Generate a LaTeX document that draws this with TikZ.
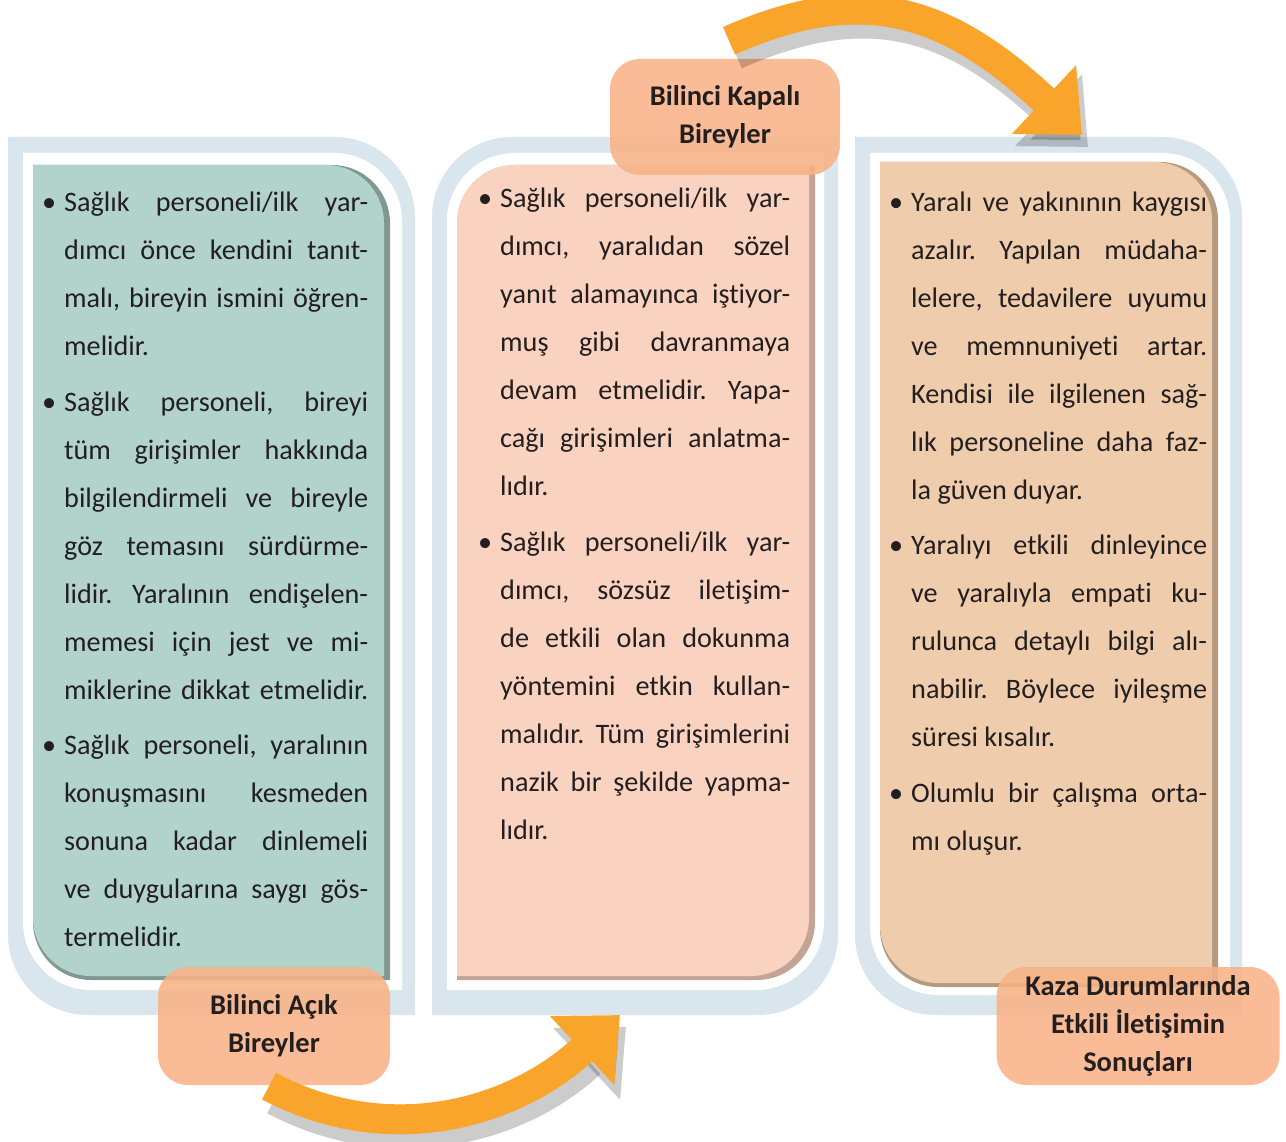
\documentclass[tikz,border=0pt]{standalone}
\usepackage{fontspec}
\setmainfont{Carlito}[Ligatures=NoCommon]
\usetikzlibrary{arrows.meta}
\setlength{\parindent}{0pt}

\definecolor{framecol}{HTML}{DAE6EE}
\definecolor{tealpanel}{HTML}{B1D3CB}
\definecolor{peachpanel}{HTML}{FAD2C0}
\definecolor{tanpanel}{HTML}{EFCDAC}
\definecolor{tagcol}{HTML}{F8B387}
\definecolor{arrowcol}{HTML}{F9A52B}
\definecolor{inkcol}{HTML}{231F20}

% tab outlines: L T R B radius
\newcommand{\tabTR}[5]{(#1,#2) -- ({#3-#5},#2) arc[start angle=-90,end angle=0,radius=#5] -- (#3,#4) -- ({#1+#5},#4) arc[start angle=90,end angle=180,radius=#5] -- cycle}
\newcommand{\tabTL}[5]{({#1+#5},#2) -- (#3,#2) -- (#3,{#4-#5}) arc[start angle=0,end angle=90,radius=#5] -- (#1,#4) -- (#1,{#2+#5}) arc[start angle=180,end angle=270,radius=#5] -- cycle}
\newcommand{\itm}{\rule{0pt}{30pt}\llap{\textbullet\hspace{8pt}}}

\begin{document}
\begin{tikzpicture}[x=1pt,y=-1pt]
\tikzstyle{every node}=[inner sep=0pt, text=inkcol]
\tikzstyle{textcol}=[anchor=north west, align=justify, font={\fontsize{28.2}{48}\selectfont\frenchspacing\tolerance=10000\hyphenpenalty=10000}]
\tikzstyle{tagbox}=[fill=tagcol, fill opacity=.88, text opacity=1, rounded corners=30pt, align=center, font=\bfseries\fontsize{28.5}{38}\selectfont]
\tikzstyle{bigarrow}=[draw=arrowcol, line width=30pt, -{Triangle[length=52pt,width=91pt]}]
\tikzstyle{arrowshadow}=[draw=black, opacity=.2, line width=34pt, -{Triangle[length=54pt,width=95pt]}, transform canvas={shift={(6,12)}}]
\useasboundingbox (0,0) rectangle (1286,1142);

% frames and panels
\fill[framecol] \tabTR{8}{137}{415}{1015}{80};
\fill[white] \tabTR{23}{153}{402}{990}{68};
\fill[tealpanel!72!black] \tabTR{33}{165}{390}{980}{58};
\fill[tealpanel] \tabTR{33}{165}{384}{976}{58};

\fill[framecol] \tabTL{432}{137}{838}{1015}{80};
\fill[white] \tabTL{447}{153}{824}{990}{68};
\fill[peachpanel!78!black] \tabTL{457}{165}{815}{980}{58};
\fill[peachpanel] \tabTL{457}{165}{809}{976}{58};

\fill[framecol] \tabTR{855}{137}{1242}{1015}{80};
\fill[white] \tabTR{870}{153}{1230}{995}{68};
\fill[tanpanel!75!black] \tabTR{880}{162}{1218}{987}{58};
\fill[tanpanel] \tabTR{880}{162}{1212}{983}{58};

% texts
\node[textcol, text width=304pt] (acikmetin) at (64,181) {%
\itm Sağlık personeli/ilk yar-\linebreak
dımcı önce kendini tanıt-\linebreak
malı, bireyin ismini öğren-\linebreak
melidir.\\[8pt]
\itm Sağlık personeli, bireyi\linebreak
tüm girişimler hakkında\linebreak
bilgilendirmeli ve bireyle\linebreak
göz temasını sürdürme-\linebreak
lidir. Yaralının endişelen-\linebreak
memesi için jest ve mi-\linebreak
miklerine dikkat etmelidir.\vspace{7pt}\linebreak
\itm Sağlık personeli, yaralının\linebreak
konuşmasını kesmeden\linebreak
sonuna kadar dinlemeli\linebreak
ve duygularına saygı gös-\linebreak
termelidir.};

\node[textcol, text width=290pt] (kapalimetin) at (500,177) {%
\itm Sağlık personeli/ilk yar-\linebreak
dımcı, yaralıdan sözel\linebreak
yanıt alamayınca iştiyor-\linebreak
muş gibi davranmaya\linebreak
devam etmelidir. Yapa-\linebreak
cağı girişimleri anlatma-\linebreak
lıdır.\\[8pt]
\itm Sağlık personeli/ilk yar-\linebreak
dımcı, sözsüz iletişim-\linebreak
de etkili olan dokunma\linebreak
yöntemini etkin kullan-\linebreak
malıdır. Tüm girişimlerini\linebreak
nazik bir şekilde yapma-\linebreak
lıdır.};

\node[textcol, text width=296pt] (sonucmetin) at (911,181) {%
\itm Yaralı ve yakınının kaygısı\linebreak
azalır. Yapılan müdaha-\linebreak
lelere, tedavilere uyumu\linebreak
ve memnuniyeti artar.\linebreak
Kendisi ile ilgilenen sağ-\linebreak
lık personeline daha faz-\linebreak
la güven duyar.\\[7pt]
\itm Yaralıyı etkili dinleyince\linebreak
ve yaralıyla empati ku-\linebreak
rulunca detaylı bilgi alı-\linebreak
nabilir. Böylece iyileşme\linebreak
süresi kısalır.\\[8pt]
\itm Olumlu bir çalışma orta-\linebreak
mı oluşur.};

% labels
\node[tagbox, minimum width=232pt, minimum height=118pt] (acik) at (274,1026) {Bilinci Açık\\Bireyler};
\node[tagbox, minimum width=230pt, minimum height=116pt] (kapali) at (725,117) {Bilinci Kapalı\\Bireyler};
\node[tagbox, minimum width=283pt, minimum height=118pt] (sonuc) at (1138,1026) {Kaza Durumlarında\\Etkili İletişimin\\Sonuçları};

% curved arrows
\coordinate (ucA) at (620,1015);
\coordinate (ucK) at (1082,135);
\draw[arrowshadow] ([shift={(-5,1)}]acik.south) .. controls (390,1150) and (515,1113) .. (ucA);
\draw[bigarrow] ([shift={(-5,1)}]acik.south) .. controls (390,1150) and (515,1113) .. (ucA);
\draw[arrowshadow] ([shift={(4,-18)}]kapali.north) .. controls (866,-20) and (950,12) .. (ucK);
\draw[bigarrow] ([shift={(4,-18)}]kapali.north) .. controls (866,-20) and (950,12) .. (ucK);
\end{tikzpicture}
\end{document}
